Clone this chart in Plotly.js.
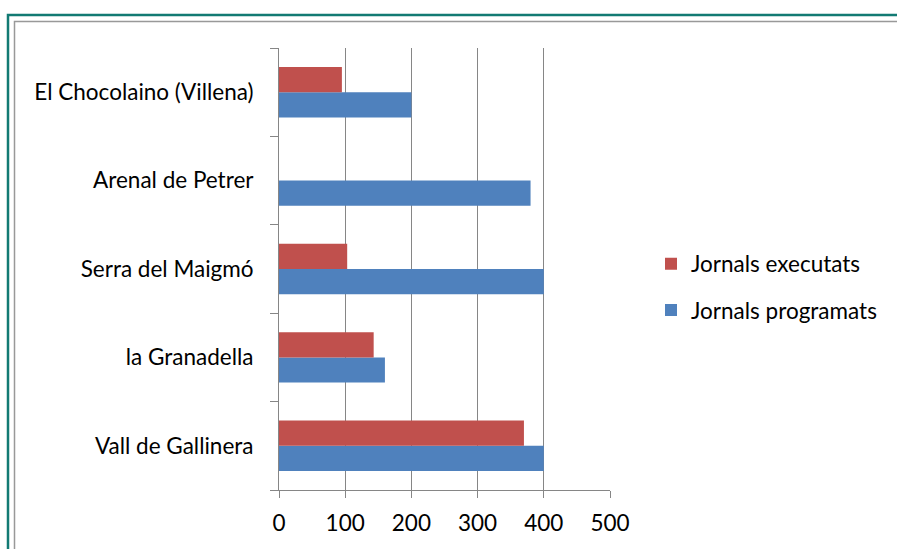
<!DOCTYPE html>
<html><head><meta charset="utf-8">
<script src="https://cdn.plot.ly/plotly-3.0.1.min.js"></script>
<style>html,body{margin:0;padding:0;background:#fff}#chart{width:897px;height:549px}</style>
</head><body><div id="chart"></div>
<script>
const categories = ["Vall de Gallinera", "la Granadella", "Serra del Maigmó", "Arenal de Petrer", "El Chocolaino (Villena)"];
const programats = [400, 160, 400, 380, 200];
const executats = [370, 143, 103, 0, 95];
const xTicks = [0, 100, 200, 300, 400, 500];

const W = 897, H = 549, L = 279, R = 610, T = 48, B = 490;
const px = x => (x - L) / (R - L);
const py = y => (B - y) / (B - T);
const font = {family: "Lato, 'Open Sans', sans-serif", size: 22.5, color: "#000"};

const data = [
  {type: "bar", orientation: "h", name: "Jornals programats", y: categories, x: programats,
   legendgroup: "p", legendrank: 2, marker: {color: "#4F81BD"}},
  {type: "bar", orientation: "h", name: "Jornals executats", y: categories, x: executats,
   legendgroup: "e", legendrank: 1, marker: {color: "#C0504D"}}
];
const layout = {
  width: W, height: H, paper_bgcolor: "#fff", plot_bgcolor: "#fff",
  margin: {l: L, r: W - R, t: T, b: H - B, pad: 0},
  barmode: "group", bargap: 0.43, bargroupgap: 0,
  font: font, showlegend: true,
  xaxis: {range: [0, 500], tickvals: xTicks, ticks: "outside", ticklen: 7, tickcolor: "#868686",
    showline: true, linecolor: "#868686", showgrid: true, gridcolor: "#868686", gridwidth: 1,
    zeroline: false, tickfont: font, ticklabelstandoff: 6, fixedrange: true},
  yaxis: {type: "category", ticks: "outside", tickson: "boundaries", ticklen: 8, tickcolor: "#868686",
    showline: true, linecolor: "#868686", showgrid: false, tickfont: font, ticklabelstandoff: 20, fixedrange: true},
  legend: {x: px(651), y: py(287), xanchor: "left", yanchor: "middle", traceorder: "grouped",
    font: font, itemwidth: 30, tracegroupgap: 14, bgcolor: "rgba(0,0,0,0)"},
  shapes: [
    {type: "rect", xref: "paper", yref: "paper", x0: px(8), x1: px(1000), y0: py(15), y1: py(700),
     line: {color: "#127A73", width: 2.5}, fillcolor: "rgba(0,0,0,0)", layer: "below"},
    {type: "rect", xref: "paper", yref: "paper", x0: px(14.5), x1: px(1000), y0: py(21.5), y1: py(700),
     line: {color: "#999999", width: 1.5}, fillcolor: "rgba(0,0,0,0)", layer: "below"}
  ]
};
Plotly.newPlot("chart", data, layout, {displayModeBar: false, staticPlot: true});
</script></body></html>
